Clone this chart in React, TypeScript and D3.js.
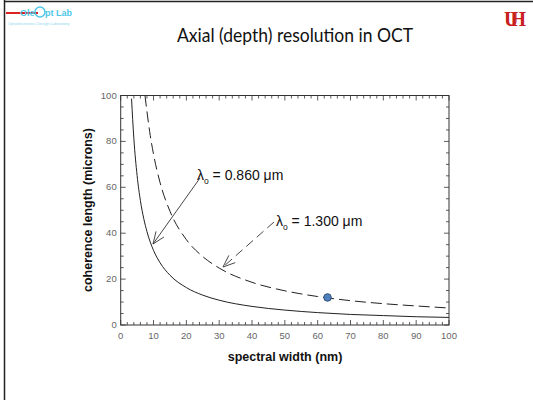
import React from "react";
import * as d3 from "d3";

const solidX = [3.3, 4, 5, 6, 7, 8, 10, 12, 15, 20, 25, 30, 40, 50, 60, 70, 80, 90, 100];
const solidY = [98.6, 81.4, 65.1, 54.2, 46.5, 40.7, 32.5, 27.1, 21.7, 16.3, 13.0, 10.8, 8.1, 6.5, 5.4, 4.6, 4.1, 3.6, 3.3];
const dashX = [7.4, 8, 9, 10, 12, 15, 20, 25, 30, 40, 50, 60, 70, 80, 90, 100];
const dashY = [100.5, 93, 82.6, 74.4, 62, 49.6, 37.2, 29.8, 24.8, 18.6, 14.9, 12.4, 10.6, 9.3, 8.3, 7.4];
const markerPoint = { x: 63, y: 12 };
const xTicks = [0, 10, 20, 30, 40, 50, 60, 70, 80, 90, 100];
const yTicks = [0, 20, 40, 60, 80, 100];
const title = "Axial (depth) resolution in OCT";
const xLabel = "spectral width (nm)";
const yLabel = "coherence length (microns)";

export default function App() {
  const W = 533, H = 400;
  const L = 120.7, R = 449, T = 95.5, B = 325;
  const x = d3.scaleLinear().domain([0, 100]).range([L, R]);
  const y = d3.scaleLinear().domain([0, 100]).range([B, T]);
  const line = d3.line<[number, number]>().x(d => x(d[0])).y(d => y(Math.min(d[1], 100))).curve(d3.curveMonotoneX);
  const solid = solidX.map((v, i) => [v, solidY[i]] as [number, number]);
  const dash = dashX.map((v, i) => [v, dashY[i]] as [number, number]);
  const xMinor = d3.range(0, 101, 2);
  const yMinor = d3.range(0, 101, 5);
  const tc = "#666";
  const arrowHead = (x1: number, y1: number, x2: number, y2: number) => {
    const a = Math.atan2(y2 - y1, x2 - x1);
    const len = 13, sp = 0.38;
    const p1 = [x2 - len * Math.cos(a - sp), y2 - len * Math.sin(a - sp)];
    const p2 = [x2 - len * Math.cos(a + sp), y2 - len * Math.sin(a + sp)];
    return `M${p1[0]},${p1[1]}L${x2},${y2}L${p2[0]},${p2[1]}`;
  };
  return (
    <svg width={W} height={H} style={{ position: "absolute", left: 0, top: 0, background: "#fff" }}>
      <rect x={0} y={0} width={W} height={H} fill="#fff" />
      <line x1={4.5} y1={0} x2={4.5} y2={H} stroke="#222" strokeWidth={1.5} />
      <line x1={4} y1={1.5} x2={W} y2={1.5} stroke="#222" strokeWidth={1.5} />
      {/* logo */}
      <line x1={6} y1={13} x2={38} y2={13} stroke="#d22" strokeWidth={2} />
      <text x={20} y={16} fontFamily="Arial" fontWeight="bold" fontSize={9} fill="#4dc8e8">Ole</text>
      <circle cx={40} cy={12} r={5} fill="none" stroke="#4dc8e8" strokeWidth={1.5} />
      <text x={45} y={16} fontFamily="Arial" fontWeight="bold" fontSize={9} fill="#4dc8e8">pt Lab</text>
      <text x={8} y={25} fontFamily="Arial" fontSize={4} fill="#8fd8ef">Optoelectronics Design Laboratory</text>
      <text x={511} y={26} fontFamily="Liberation Serif" fontWeight="bold" fontSize={20} fill="#c8201e" textAnchor="middle" letterSpacing={-8}>UH</text>
      {/* title */}
      <text x={295} y={42} fontFamily="Lato, Open Sans" fontSize={19} fill="#111" textAnchor="middle" textLength={236} lengthAdjust="spacingAndGlyphs">{title}</text>
      {/* frame */}
      <rect x={L} y={T} width={R - L} height={B - T} fill="none" stroke="#333" strokeWidth={1} />
      {xMinor.map(v => {
        const len = v % 10 === 0 ? 5 : 3;
        return (
          <g key={"x" + v}>
            <line x1={x(v)} x2={x(v)} y1={B} y2={B - len} stroke="#333" strokeWidth={0.8} />
            <line x1={x(v)} x2={x(v)} y1={T} y2={T + len} stroke="#333" strokeWidth={0.8} />
          </g>
        );
      })}
      {yMinor.map(v => {
        const len = v % 20 === 0 ? 5 : 3;
        return (
          <g key={"y" + v}>
            <line x1={L} x2={L + len} y1={y(v)} y2={y(v)} stroke="#333" strokeWidth={0.8} />
            <line x1={R} x2={R - len} y1={y(v)} y2={y(v)} stroke="#333" strokeWidth={0.8} />
          </g>
        );
      })}
      {xTicks.map(v => (
        <text key={"xl" + v} x={x(v)} y={B + 14} fontFamily="Arial" fontSize={9.5} fill={tc} textAnchor="middle">{v}</text>
      ))}
      {yTicks.map(v => (
        <text key={"yl" + v} x={L - 4} y={y(v) + 3} fontFamily="Arial" fontSize={9.5} fill={tc} textAnchor="end">{v}</text>
      ))}
      <text x={285} y={361} fontFamily="Arial" fontWeight="bold" fontSize={12.5} fill="#111" textAnchor="middle">{xLabel}</text>
      <text transform={`translate(92,210) rotate(-90)`} fontFamily="Arial" fontWeight="bold" fontSize={12.5} fill="#111" textAnchor="middle">{yLabel}</text>
      {/* curves */}
      <path d={line(solid) || ""} fill="none" stroke="#222" strokeWidth={1} />
      <path d={line(dash) || ""} fill="none" stroke="#222" strokeWidth={1} strokeDasharray="11,5" />
      <circle cx={x(markerPoint.x)} cy={y(markerPoint.y)} r={3.8} fill="#4f81bd" stroke="#1f3a60" strokeWidth={0.8} />
      {/* annotations */}
      <line x1={200} y1={178} x2={153} y2={244} stroke="#333" strokeWidth={0.9} />
      <path d={arrowHead(200, 178, 153, 244)} fill="none" stroke="#333" strokeWidth={0.9} />
      <line x1={274} y1={222} x2={223} y2={267} stroke="#333" strokeWidth={0.9} strokeDasharray="9,5" />
      <path d={arrowHead(274, 222, 223, 267)} fill="none" stroke="#333" strokeWidth={0.9} />
      <text x={197} y={180} fontFamily="Arial" fontSize={14} fill="#111">λ<tspan fontSize={8.5} dy={4}>o</tspan><tspan dy={-4}> = 0.860 μm</tspan></text>
      <text x={276} y={226} fontFamily="Arial" fontSize={14} fill="#111">λ<tspan fontSize={8.5} dy={4}>o</tspan><tspan dy={-4}> = 1.300 μm</tspan></text>
    </svg>
  );
}
